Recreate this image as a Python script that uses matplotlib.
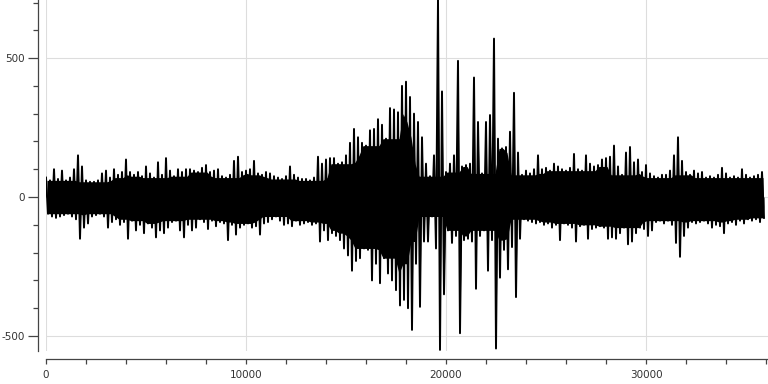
import numpy as np
import matplotlib
matplotlib.use("Agg")
import matplotlib.pyplot as plt
from matplotlib.ticker import MultipleLocator, FixedLocator

plt.rcParams["axes.unicode_minus"] = False

# waveform: per 200-sample bin, the upper and lower peak
bin_size = 200
upper = [
    70, 60, 100, 65, 95, 60, 70, 100, 150, 110, 60, 55, 55, 60, 85, 95, 70, 100,
    80, 90, 135, 90, 80, 90, 75, 110, 85, 70, 125, 80, 140, 95, 75, 100, 90, 100,
    100, 95, 90, 105, 115, 90, 95, 100, 75, 70, 80, 130, 145, 90, 95, 100, 130, 85,
    80, 90, 85, 75, 70, 65, 75, 110, 80, 70, 65, 65, 60, 70, 145, 120, 135, 140,
    140, 120, 125, 150, 195, 245, 215, 195, 185, 240, 245, 280, 260, 210, 320, 315, 305, 400,
    415, 360, 300, 270, 215, 120, 75, 150, 709, 380, 90, 120, 150, 490, 110, 115, 120, 430,
    270, 85, 270, 295, 570, 210, 175, 180, 235, 375, 160, 80, 95, 85, 100, 150, 100, 105,
    95, 120, 110, 100, 95, 105, 155, 100, 95, 150, 120, 110, 115, 135, 140, 145, 185, 110,
    80, 160, 180, 125, 135, 90, 115, 85, 75, 70, 80, 80, 95, 150, 215, 130, 90, 80,
    95, 85, 90, 70, 75, 70, 80, 105, 85, 70, 75, 70, 100, 80, 70, 75, 80, 90,
]
lower = [
    -60, -70, -75, -70, -65, -60, -70, -80, -150, -110, -95, -70, -65, -60, -70, -110, -90, -80,
    -100, -90, -150, -85, -120, -100, -130, -95, -110, -145, -120, -130, -110, -90, -85, -120, -145, -100,
    -120, -110, -80, -90, -115, -85, -105, -90, -95, -155, -100, -135, -110, -100, -95, -110, -105, -135,
    -95, -90, -80, -70, -85, -100, -95, -105, -85, -100, -95, -90, -100, -95, -160, -120, -155, -130,
    -140, -155, -185, -210, -265, -230, -220, -185, -190, -300, -240, -310, -220, -275, -300, -335, -390, -370,
    -400, -478, -240, -395, -160, -160, -70, -185, -550, -350, -120, -165, -140, -490, -155, -150, -160, -330,
    -140, -120, -265, -155, -545, -290, -190, -260, -180, -360, -150, -80, -85, -90, -95, -90, -100, -95,
    -110, -100, -155, -95, -100, -110, -160, -105, -100, -150, -115, -110, -105, -110, -150, -145, -150, -130,
    -110, -170, -160, -130, -110, -115, -140, -120, -90, -85, -95, -85, -100, -165, -215, -140, -110, -90,
    -95, -90, -85, -95, -110, -100, -105, -130, -95, -90, -100, -85, -95, -80, -85, -80, -90, -75,
]
x_labels = [0, 10000, 20000, 30000]
y_labels = [-500, 0, 500]

up = np.array(upper, dtype=float)
lo = np.array(lower, dtype=float)
starts = np.arange(len(up)) * bin_size

# interleave peaks into one trace
xs = np.empty(2 * len(up))
ys = np.empty(2 * len(up))
xs[0::2] = starts
xs[1::2] = starts + bin_size / 2
ys[0::2] = up
ys[1::2] = lo

# dense part of the signal: the smallest peak among the 7 neighbouring bins
w = 3
up_pad = np.pad(up, w, mode="edge")
lo_pad = np.pad(lo, w, mode="edge")
n = len(up)
core_hi = np.min([up_pad[k:k + n] for k in range(2 * w + 1)], axis=0)
core_lo = np.max([lo_pad[k:k + n] for k in range(2 * w + 1)], axis=0)

fig = plt.figure(figsize=(7.68, 3.84), dpi=100)
ax = fig.add_axes([46 / 768, 33 / 384, 722 / 768, 351 / 384])

ax.fill_between(starts + bin_size / 4, core_lo, core_hi, color="black", lw=0, zorder=2)
ax.fill_between(xs, ys, 0, color="black", lw=0, zorder=2)
ax.plot(xs, ys, color="black", lw=1.4, zorder=3)

ax.set_xlim(0, 36100)
ax.set_ylim(-554, 709)

ax.xaxis.set_major_locator(FixedLocator(x_labels))
ax.xaxis.set_minor_locator(MultipleLocator(2000))
ax.yaxis.set_major_locator(FixedLocator(y_labels))
ax.yaxis.set_minor_locator(MultipleLocator(100))

ax.grid(True, which="major", color="#dddddd", lw=0.8, zorder=0)

for side in ["top", "right"]:
    ax.spines[side].set_visible(False)
for side in ["left", "bottom"]:
    ax.spines[side].set_position(("outward", 6))
    ax.spines[side].set_color("#444444")
    ax.spines[side].set_linewidth(0.9)

ax.tick_params(axis="y", which="major", length=7, width=0.9, color="#444444",
               labelsize=7.5, labelcolor="#333333", pad=2)
ax.tick_params(axis="y", which="minor", length=3.6, width=0.9, color="#444444")
ax.tick_params(axis="x", which="both", length=3.6, width=0.9, color="#444444",
               labelsize=7.5, labelcolor="#333333", pad=4)

fig.savefig("out.png", dpi=100)
